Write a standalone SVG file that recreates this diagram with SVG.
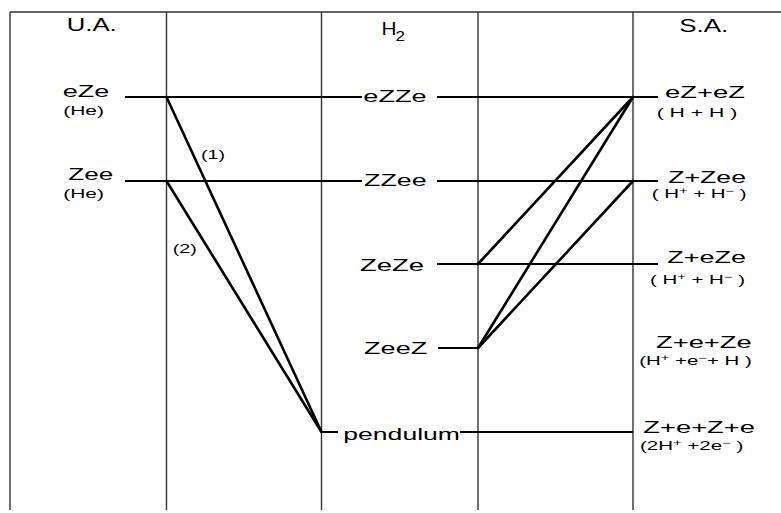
<svg xmlns="http://www.w3.org/2000/svg" width="781" height="513" viewBox="0 0 781 513">
<style>
.grid{stroke:#333;stroke-width:1.4;fill:none}
.lvl{stroke:#000;stroke-width:2.2;fill:none}
.con{stroke:#000;stroke-width:2.6;fill:none;stroke-linecap:round}
text{font-family:"Liberation Sans",Arial,sans-serif;fill:#000}
.hd{font-size:19px}
.lb{font-size:17px}
.sm{font-size:12.5px}
.sup{font-size:9px}
</style>
<rect width="781" height="513" fill="#fff"/>
<g id="frame" class="grid">
<path d="M10,12H781M10,12V510M166.5,12V510M321.5,12V510M478,12V510M633,12V510"/>
</g>
<g id="headers">
<text class="hd" x="66.7" y="30.5" textLength="50" lengthAdjust="spacingAndGlyphs">U.A.</text>
<text class="hd" x="381.5" y="35" textLength="15" lengthAdjust="spacingAndGlyphs">H</text>
<text x="395.5" y="40.5" font-size="14" textLength="9.5" lengthAdjust="spacingAndGlyphs">2</text>
<text class="hd" x="679.3" y="32.3" textLength="49" lengthAdjust="spacingAndGlyphs">S.A.</text>
</g>
<g id="ua-eZe">
<path class="lvl" d="M125,97H362"/>
<text class="lb" x="62.7" y="96.7" textLength="46.6" lengthAdjust="spacingAndGlyphs">eZe</text>
<text class="sm" x="63.3" y="114.5" textLength="40.7" lengthAdjust="spacingAndGlyphs">(He)</text>
</g>
<g id="ua-Zee">
<path class="lvl" d="M125,181H362"/>
<text class="lb" x="68.3" y="180" textLength="45" lengthAdjust="spacingAndGlyphs">Zee</text>
<text class="sm" x="63.3" y="198" textLength="40.7" lengthAdjust="spacingAndGlyphs">(He)</text>
</g>
<g id="h2-eZZe">
<path class="lvl" d="M437,97H658"/>
<text class="lb" x="363.3" y="101.7" textLength="63.4" lengthAdjust="spacingAndGlyphs">eZZe</text>
</g>
<g id="h2-ZZee">
<path class="lvl" d="M437,181H658"/>
<text class="lb" x="364" y="186" textLength="62.7" lengthAdjust="spacingAndGlyphs">ZZee</text>
</g>
<g id="h2-ZeZe">
<path class="lvl" d="M437,264H658"/>
<text class="lb" x="360" y="270.5" textLength="64" lengthAdjust="spacingAndGlyphs">ZeZe</text>
</g>
<g id="h2-ZeeZ">
<path class="lvl" d="M438,348H478"/>
<text class="lb" x="364" y="354" textLength="63.3" lengthAdjust="spacingAndGlyphs">ZeeZ</text>
</g>
<g id="h2-pendulum">
<path class="lvl" d="M321.5,432H338M460,432H633"/>
<text class="lb" x="343.3" y="440" textLength="116.7" lengthAdjust="spacingAndGlyphs">pendulum</text>
</g>
<g id="sa-eZeZ">
<text class="lb" x="665" y="98.3" textLength="80" lengthAdjust="spacingAndGlyphs">eZ+eZ</text>
<text class="sm" x="656.7" y="116.7" textLength="80.6" lengthAdjust="spacingAndGlyphs">( H + H )</text>
</g>
<g id="sa-ZZee">
<text class="lb" x="668.3" y="183.3" textLength="77.7" lengthAdjust="spacingAndGlyphs">Z+Zee</text>
<text class="sm" x="651.7" y="198" textLength="95" lengthAdjust="spacingAndGlyphs">( H<tspan class="sup" dy="-4">+</tspan><tspan dy="4"> + H</tspan><tspan class="sup" dy="-4">−</tspan><tspan dy="4"> )</tspan></text>
</g>
<g id="sa-ZeZe">
<text class="lb" x="667.3" y="263.3" textLength="78.7" lengthAdjust="spacingAndGlyphs">Z+eZe</text>
<text class="sm" x="650" y="284" textLength="95" lengthAdjust="spacingAndGlyphs">( H<tspan class="sup" dy="-4">+</tspan><tspan dy="4"> + H</tspan><tspan class="sup" dy="-4">−</tspan><tspan dy="4"> )</tspan></text>
</g>
<g id="sa-ZeZe-ion">
<text class="lb" x="656" y="348.3" textLength="95.7" lengthAdjust="spacingAndGlyphs">Z+e+Ze</text>
<text class="sm" x="639.3" y="364.5" textLength="112.4" lengthAdjust="spacingAndGlyphs">(H<tspan class="sup" dy="-4">+</tspan><tspan dy="4"> +e</tspan><tspan class="sup" dy="-4">−</tspan><tspan dy="4">+ H )</tspan></text>
</g>
<g id="sa-ZeZe-full">
<text class="lb" x="643.3" y="433.3" textLength="111.7" lengthAdjust="spacingAndGlyphs">Z+e+Z+e</text>
<text class="sm" x="640" y="449.5" textLength="103.3" lengthAdjust="spacingAndGlyphs">(2H<tspan class="sup" dy="-4">+</tspan><tspan dy="4"> +2e</tspan><tspan class="sup" dy="-4">−</tspan><tspan dy="4"> )</tspan></text>
</g>
<g id="connectors" class="con">
<path d="M166.5,97L321.5,432"/>
<path d="M166.5,181L321.5,432"/>
<path d="M633,97L478,264"/>
<path d="M633,97L478,348"/>
<path d="M633,181L478,348"/>
</g>
<g id="connector-labels">
<text class="sm" x="201" y="159" textLength="24" lengthAdjust="spacingAndGlyphs">(1)</text>
<text class="sm" x="172.7" y="253" textLength="24" lengthAdjust="spacingAndGlyphs">(2)</text>
</g>
</svg>
